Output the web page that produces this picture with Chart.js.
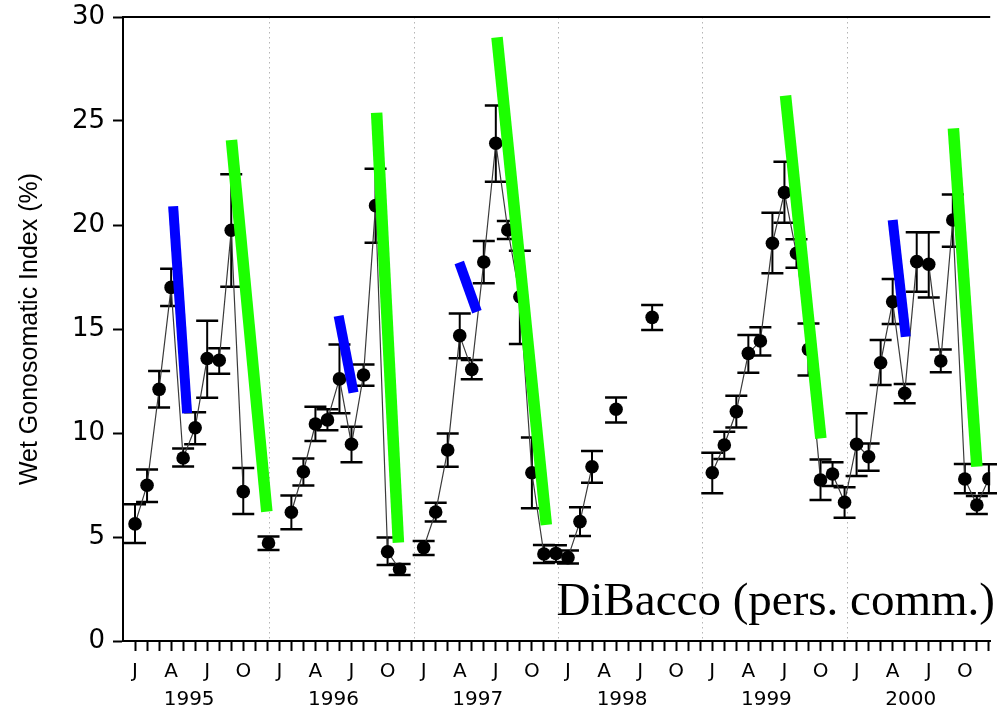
<!DOCTYPE html>
<html><head><meta charset="utf-8">
<script src="https://cdn.jsdelivr.net/npm/chart.js@4"></script>
<style>html,body{margin:0;padding:0;background:#fff;}canvas{display:block;}</style>
</head><body>
<canvas id="c" width="997" height="713"></canvas>
<script>
// month index: 0 = Jan 1995
const monthIndex = [0,1,2,3,4,5,6,7,8,9,11.1,
  13,14,15,16,17,18,19,20,21,22,
  24,25,26,27,28,29,30,31,32,33,34,35,36,37,38,40,43,
  48,49,50,51,52,53,54,55,56,57,58,59,
  60,61,62,63,64,65,66,67,68,69,70,71];
const gsi = [5.63,7.49,12.1,17.0,8.80,10.25,13.58,13.5,19.75,7.18,4.71,
  6.19,8.14,10.43,10.63,12.6,9.46,12.79,20.93,4.29,3.45,
  4.49,6.2,9.18,14.68,13.06,18.22,23.93,19.76,16.55,8.09,4.18,4.21,4.01,5.74,8.38,11.14,15.56,
  8.09,9.42,11.03,13.83,14.42,19.12,21.56,18.64,14.02,7.74,8.03,6.67,
  9.46,8.86,13.38,16.31,11.91,18.24,18.11,13.46,20.24,7.79,6.54,7.8];
const seHigh = [6.57,8.25,12.98,17.9,9.26,11.0,15.4,14.08,22.44,8.32,5.02,
  6.99,8.78,11.26,11.14,14.26,10.3,13.29,22.7,4.97,3.7,
  4.81,6.65,9.98,15.75,13.51,19.23,25.74,20.19,18.76,9.78,4.62,4.6,4.35,6.43,9.13,11.71,16.15,
  9.05,10.06,11.79,14.71,15.08,20.59,23.04,19.31,15.27,8.73,8.59,7.39,
  10.95,9.5,14.47,17.4,12.36,19.65,19.65,14.02,21.47,8.51,6.97,8.5];
const seLow = [4.71,6.68,11.23,16.1,8.39,9.46,11.7,12.85,17.03,6.11,4.38,
  5.37,7.47,9.62,10.13,10.95,8.59,12.27,19.15,3.65,3.17,
  4.13,5.75,8.38,13.59,12.58,17.2,22.08,19.33,14.28,6.38,3.75,3.8,3.73,5.05,7.61,10.51,14.95,
  7.1,8.75,10.26,12.9,13.73,17.68,20.11,17.95,12.76,6.78,7.45,5.93,
  7.93,8.19,12.31,15.24,11.43,16.79,16.52,12.92,18.96,7.1,6.1,7.1];
// 1 = joined by a line to the previous point
const joined = [0,1,1,1,1,1,1,1,1,1,0,
  0,1,1,1,1,1,1,1,1,1,
  0,1,1,1,1,1,1,1,1,1,1,1,1,1,1,0,0,
  0,1,1,1,1,1,1,1,1,1,1,1,
  1,1,1,1,1,1,1,1,1,1,1,1];

// overlay strokes: [x start, y start, x end, y end]
const blueStrokes = [[3.17,20.9,4.33,10.95],[16.93,15.63,18.17,11.94],[26.96,18.2,28.43,15.83],[63.0,20.24,64.09,14.63]];
const greenStrokes = [[8.02,24.09,10.96,6.22],[20.09,25.4,21.9,4.73],[30.1,29.02,34.2,5.58],[54.09,26.22,57.03,9.74],[68.05,24.65,70.0,8.38]];

const monthLetters = ['J','','','A','','','J','','','O','',''];
const years = ['1995','1996','1997','1998','1999','2000'];
const yearLabelPos = [4.5,16.5,28.5,40.5,52.5,64.5];
const yearDividers = [11.17,23.17,35.17,47.17,59.17,71.17];
const monthTicks = Array.from({length:72},(_,i)=>i);

const overlay = {
  id:'overlay',
  beforeDatasetsDraw(chart){
    const {ctx, chartArea:a, scales:{x,y}} = chart;
    ctx.save();
    ctx.strokeStyle='#b5b5b5'; ctx.lineWidth=1; ctx.setLineDash([1.5,3.5]);
    yearDividers.forEach(v=>{
      const px=Math.round(x.getPixelForValue(v))+0.5;
      if(px>a.right) return;
      ctx.beginPath(); ctx.moveTo(px,a.top); ctx.lineTo(px,a.bottom); ctx.stroke();
    });
    ctx.setLineDash([]);
    ctx.strokeStyle='#000'; ctx.lineWidth=2;
    ctx.beginPath(); ctx.moveTo(a.left,a.top); ctx.lineTo(a.right,a.top); ctx.stroke();
    monthIndex.forEach((m,i)=>{
      const px=x.getPixelForValue(m), hi=y.getPixelForValue(seHigh[i]), lo=y.getPixelForValue(seLow[i]);
      ctx.lineWidth=2;
      ctx.beginPath(); ctx.moveTo(px,hi); ctx.lineTo(px,lo); ctx.stroke();
      ctx.lineWidth=2.5;
      ctx.beginPath();
      ctx.moveTo(px-11,hi); ctx.lineTo(px+11,hi);
      ctx.moveTo(px-11,lo); ctx.lineTo(px+11,lo); ctx.stroke();
    });
    ctx.restore();
  },
  afterDraw(chart){
    const {ctx} = chart;
    ctx.save();
    ctx.font='47px "Liberation Serif", "Times New Roman", serif';
    ctx.fillStyle='#000'; ctx.textAlign='right'; ctx.textBaseline='alphabetic';
    ctx.fillText('DiBacco (pers. comm.)', chart.width-2, 615);
    ctx.restore();
  }
};

const strokeSet = (arr,color,w)=>arr.map(s=>({
  type:'line', data:[{x:s[0],y:s[1]},{x:s[2],y:s[3]}], borderColor:color, borderWidth:w,
  pointRadius:0, borderCapStyle:'butt', order:0, xAxisID:'x', yAxisID:'y'
}));

new Chart(document.getElementById('c'), {
  type:'line',
  data:{ datasets:[
    { data: monthIndex.map((m,i)=>({x:m,y:gsi[i]})),
      borderColor:'#3a3a3a', borderWidth:1.2, pointRadius:6.8, pointBackgroundColor:'#000',
      pointBorderWidth:0, order:1, xAxisID:'x', yAxisID:'y',
      segment:{ borderColor: c => joined[c.p1DataIndex] ? '#3a3a3a' : 'rgba(0,0,0,0)' } },
    ...strokeSet(blueStrokes,'#0000ff',10),
    ...strokeSet(greenStrokes,'#1cff00',11.5)
  ]},
  options:{
    responsive:false, devicePixelRatio:1, animation:false,
    layout:{ padding:{top:17,right:0,left:0,bottom:0} },
    plugins:{ legend:{display:false}, tooltip:{enabled:false} },
    scales:{
      x:{ type:'linear', position:'bottom', min:-1, max:71.11, weight:0,
        afterBuildTicks: s => { s.ticks = monthTicks.map(v=>({value:v})); },
        afterFit: s => { s.height = 44; s.paddingLeft = 0; s.paddingRight = 0; },
        ticks:{ autoSkip:false, maxRotation:0, padding:9, color:'#000',
          font:{family:'DejaVu Sans', size:20},
          callback: v => monthLetters[((v%12)+12)%12] },
        grid:{ drawOnChartArea:false, tickLength:10, tickWidth:2, tickColor:'#000' },
        border:{ display:true, color:'#000', width:2 } },
      x2:{ type:'linear', position:'bottom', display:true, min:-1, max:71.11, weight:1,
        afterBuildTicks: s => { s.ticks = yearLabelPos.map(v=>({value:v})); },
        afterFit: s => { s.height = 28; s.paddingLeft = 0; s.paddingRight = 0; },
        ticks:{ autoSkip:false, maxRotation:0, padding:3, color:'#000',
          font:{family:'DejaVu Sans', size:20},
          callback: (v,i) => years[i] },
        grid:{ display:false, drawTicks:false },
        border:{ display:false } },
      y:{ min:0, max:30,
        afterFit: s => { s.width = 123; s.paddingTop = 0; s.paddingBottom = 0; },
        ticks:{ stepSize:5, padding:8, color:'#000', font:{family:'DejaVu Sans', size:26} },
        grid:{ drawOnChartArea:false, tickLength:10, tickWidth:2, tickColor:'#000' },
        border:{ color:'#000', width:2 },
        title:{ display:true, text:'Wet Gonosomatic Index (%)', color:'#000',
          font:{family:'Liberation Sans', size:25}, padding:{top:15,bottom:0} } }
    }
  },
  plugins:[overlay]
});
</script>
</body></html>
